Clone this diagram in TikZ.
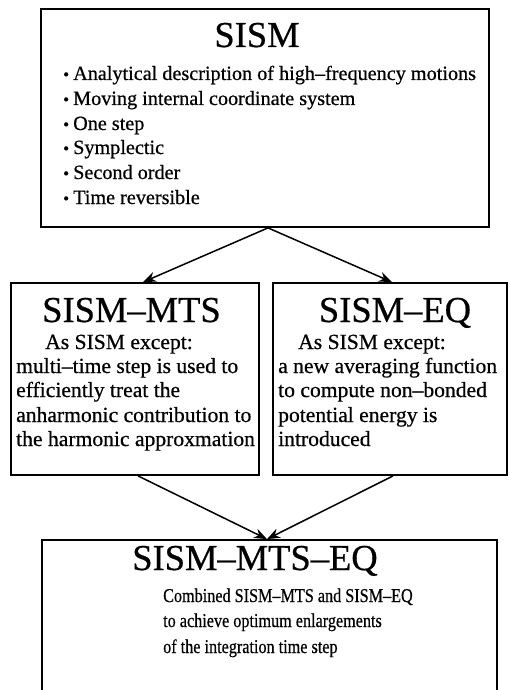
\documentclass[tikz,border=0pt]{standalone}
\usepackage{fontspec}
\setmainfont{Liberation Serif}[FakeBold=0.6]
\usetikzlibrary{arrows.meta,calc}
\begin{document}
\begin{tikzpicture}[x=1pt,y=-1pt,
 box/.style={draw,line width=1.8pt,inner sep=0pt},
 ttl/.style={font=\fontsize{36.5}{40}\selectfont,anchor=base,inner sep=0pt},
 topb/.style={font=\fontsize{20.2}{24}\selectfont,anchor=base west,inner sep=0pt},
 body/.style={font=\fontsize{21.6}{24}\selectfont,anchor=base west,inner sep=0pt},
 bodyc/.style={font=\fontsize{21.6}{24}\selectfont,anchor=base,inner sep=0pt},
 botb/.style={font=\fontsize{19.5}{24}\selectfont,anchor=base west,inner sep=0pt},
 arr/.style={line width=1.5pt,-{Stealth[length=13pt,width=10pt]}}]
\clip (0,0) rectangle (509,690);
\newcommand{\bul}[1]{\makebox[10pt][l]{\fontsize{17}{17}\selectfont\textbullet}#1}
\newcommand{\narrow}[1]{\scalebox{0.83}[1]{#1}}
% boxes
\node[box,minimum width=448pt,minimum height=218pt] (sism) at (265,118) {};
\node[box,minimum width=248pt,minimum height=192pt] (mts) at (135,379) {};
\node[box,minimum width=234pt,minimum height=192pt] (eq) at (390,379) {};
\node[box,minimum width=455pt,minimum height=180pt] (comb) at (269.5,630) {};
% top box text
\node[ttl] (t1) at (257,47) {SISM};
\node[topb] (b1) at (63,80) {\bul{Analytical description of high–frequency motions}};
\node[topb] (b2) at (63,105) {\bul{Moving internal coordinate system}};
\node[topb] (b3) at (63,130) {\bul{One step}};
\node[topb] (b4) at (63,154) {\bul{Symplectic}};
\node[topb] (b5) at (63,179) {\bul{Second order}};
\node[topb] (b6) at (63,204) {\bul{Time reversible}};
% left middle
\node[ttl] (t2) at (131.5,322) {SISM–MTS};
\node[bodyc] (m0) at (119,349) {As SISM except:};
\node[body] (m1) at (16,373) {multi–time step is used to};
\node[body] (m2) at (16,397) {efficiently treat the};
\node[body] (m3) at (16,422) {anharmonic contribution to};
\node[body] (m4) at (16,446) {the harmonic approxmation};
% right middle
\node[ttl] (t3) at (395,322) {SISM–EQ};
\node[bodyc] (e0) at (372,349) {As SISM except:};
\node[body] (e1) at (278,373) {a new averaging function};
\node[body] (e2) at (278,397) {to compute non–bonded};
\node[body] (e3) at (278,422) {potential energy is};
\node[body] (e4) at (278,446) {introduced};
% bottom
\node[ttl] (t4) at (255,570) {SISM–MTS–EQ};
\node[botb] (c1) at (163,602) {\narrow{Combined SISM–MTS and SISM–EQ}};
\node[botb] (c2) at (163,627) {\narrow{to achieve optimum enlargements}};
\node[botb] (c3) at (163,653) {\narrow{of the integration time step}};
% arrows
\draw[arr] ($(sism.south)+(3,0)$) -- ($(mts.north)+(8,0)$);
\draw[arr] ($(sism.south)+(3,0)$) -- ($(eq.north)+(2,0)$);
\draw[arr] ($(mts.south)+(3,0)$) -- ($(comb.north)+(-2.5,0)$);
\draw[arr] ($(eq.south)+(3,0)$) -- ($(comb.north)+(-2.5,0)$);
\end{tikzpicture}
\end{document}
